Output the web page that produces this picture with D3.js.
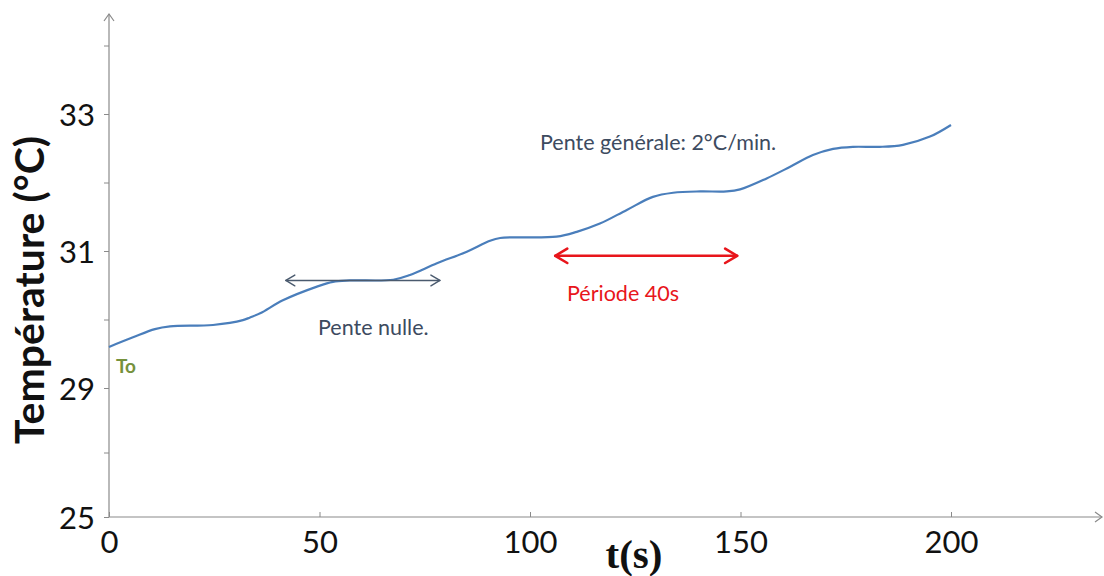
<!DOCTYPE html>
<html>
<head>
<meta charset="utf-8">
<script src="https://cdn.jsdelivr.net/npm/d3@7"></script>
<style>
  html, body { margin: 0; padding: 0; background: #fff; }
  svg { display: block; }
</style>
</head>
<body>
<svg id="chart" width="1104" height="576"></svg>
<script>
// Temperature record (t in s, T in °C)
const times = [0, 5.7, 10.9, 14.5, 24.7, 31.8, 33.5, 35.9, 41.3, 49.4, 53.2, 57.2, 67.5, 71.5, 77.9,
  85.0, 90.5, 92.9, 106.3, 111.1, 116.6, 123.0, 129.2, 134.0, 140.4, 146.7, 149.9, 156.2, 161.8,
  167.2, 172.0, 176.7, 183.1, 188.6, 195.0, 200];
const temps = [29.60, 29.74, 29.86, 29.90, 29.92, 29.99, 30.03, 30.09, 30.28, 30.48, 30.55, 30.57,
  30.58, 30.65, 30.82, 30.99, 31.15, 31.19, 31.21, 31.28, 31.40, 31.60, 31.79, 31.85, 31.87, 31.87,
  31.90, 32.06, 32.23, 32.40, 32.49, 32.52, 32.52, 32.55, 32.67, 32.84];

// Axis ticks
const xTickValues = [0, 50, 100, 150, 200];
const xTickLabels = ["0", "50", "100", "150", "200"];
const yTickValues = [25, 27, 29, 30, 31, 32, 33, 34];
const yTickLabels = ["25", "", "29", "", "31", "", "33", ""];

// Annotations (data units)
const flatSpan = [42, 78.6];      // "Pente nulle." double arrow, t range
const flatLevel = 30.57;
const periodSpan = [106, 149.2];  // "Période 40s" double arrow
const periodLevel = 30.93;

const svg = d3.select("#chart");

// y axis is broken below 29: 25..29 is compressed
const x = d3.scaleLinear().domain([0, 200]).range([109, 951]);
const y = d3.scaleLinear().domain([25, 29, 33]).range([517, 388, 114]);

const axisColor = "#8a8a8a";
const xMax = 1102, yTop = 14;

// axis lines with open arrowheads
const axes = svg.append("g").attr("stroke", axisColor).attr("fill", "none").attr("stroke-width", 1.2);
axes.append("line").attr("x1", x(0)).attr("x2", xMax).attr("y1", y(25)).attr("y2", y(25));
axes.append("line").attr("x1", x(0)).attr("x2", x(0)).attr("y1", y(25)).attr("y2", yTop);
axes.append("path").attr("d", `M${xMax - 7},${y(25) - 5}L${xMax},${y(25)}L${xMax - 7},${y(25) + 5}`);
axes.append("path").attr("d", `M${x(0) - 5},${yTop + 7}L${x(0)},${yTop}L${x(0) + 5},${yTop + 7}`);

// x axis ticks (inward) and labels
const xAxis = d3.axisBottom(x).tickValues(xTickValues).tickSizeInner(-5).tickSizeOuter(0)
  .tickFormat((d, i) => xTickLabels[i]).tickPadding(14);
const gx = svg.append("g").attr("transform", `translate(0,${y(25)})`).call(xAxis);
gx.select(".domain").remove();
gx.selectAll(".tick line").attr("stroke", axisColor);
gx.selectAll(".tick text").attr("fill", "#111").attr("font-family", "Lato, 'Open Sans', sans-serif")
  .attr("font-size", 31).attr("dy", "0.71em");

// y axis ticks (outward) and labels
const yAxis = d3.axisLeft(y).tickValues(yTickValues).tickSizeInner(5).tickSizeOuter(0)
  .tickFormat((d, i) => yTickLabels[i]).tickPadding(9);
const gy = svg.append("g").attr("transform", `translate(${x(0)},0)`).call(yAxis);
gy.select(".domain").remove();
gy.selectAll(".tick line").attr("stroke", axisColor);
gy.selectAll(".tick text").attr("fill", "#111").attr("font-family", "Lato, 'Open Sans', sans-serif")
  .attr("font-size", 31).attr("dy", "0.36em");

// axis titles
svg.append("text")
  .attr("transform", `translate(44,${290}) rotate(-90)`)
  .attr("text-anchor", "middle")
  .attr("font-family", "Lato, 'Liberation Sans', sans-serif")
  .attr("font-weight", "bold").attr("font-size", 41).attr("fill", "#111")
  .text("Température (°C)");

svg.append("text")
  .attr("x", 634).attr("y", 568)
  .attr("text-anchor", "middle")
  .attr("font-family", "'Liberation Serif', 'Times New Roman', serif")
  .attr("font-weight", "bold").attr("font-size", 41).attr("fill", "#111")
  .text("t(s)");

// temperature curve
const line = d3.line().x((d, i) => x(times[i])).y(d => y(d)).curve(d3.curveCatmullRom.alpha(0.5));
svg.append("path")
  .datum(temps)
  .attr("d", line)
  .attr("fill", "none")
  .attr("stroke", "#4a7ebb")
  .attr("stroke-width", 2.2);

// double-headed arrows
function doubleArrow(span, level, color, width, head) {
  const y0 = y(level), xa = x(span[0]), xb = x(span[1]);
  const g = svg.append("g").attr("stroke", color).attr("stroke-width", width)
    .attr("fill", "none").attr("stroke-linecap", "round").attr("stroke-linejoin", "round");
  g.append("line").attr("x1", xa).attr("x2", xb).attr("y1", y0).attr("y2", y0);
  g.append("path").attr("d", `M${xa + head},${y0 - head * 0.6}L${xa},${y0}L${xa + head},${y0 + head * 0.6}`);
  g.append("path").attr("d", `M${xb - head},${y0 - head * 0.6}L${xb},${y0}L${xb - head},${y0 + head * 0.6}`);
}
doubleArrow(flatSpan, flatLevel, "#4a5a6e", 1.4, 9);
doubleArrow(periodSpan, periodLevel, "#e8151b", 2.6, 12);

// annotation texts
const noteFont = "Lato, 'Open Sans', sans-serif";
svg.append("text").attr("x", 540).attr("y", 150).attr("font-family", noteFont)
  .attr("font-size", 21.5).attr("fill", "#3d4b5f").text("Pente générale: 2°C/min.");
svg.append("text").attr("x", 318).attr("y", 335).attr("font-family", noteFont)
  .attr("font-size", 21.5).attr("fill", "#3d4b5f").text("Pente nulle.");
svg.append("text").attr("x", 567).attr("y", 301).attr("font-family", noteFont)
  .attr("font-size", 21.5).attr("fill", "#e8151b").text("Période 40s");
svg.append("text").attr("x", 116).attr("y", 373).attr("font-family", noteFont)
  .attr("font-weight", "bold").attr("font-size", 19).attr("fill", "#76923c").text("To");
</script>
</body>
</html>
